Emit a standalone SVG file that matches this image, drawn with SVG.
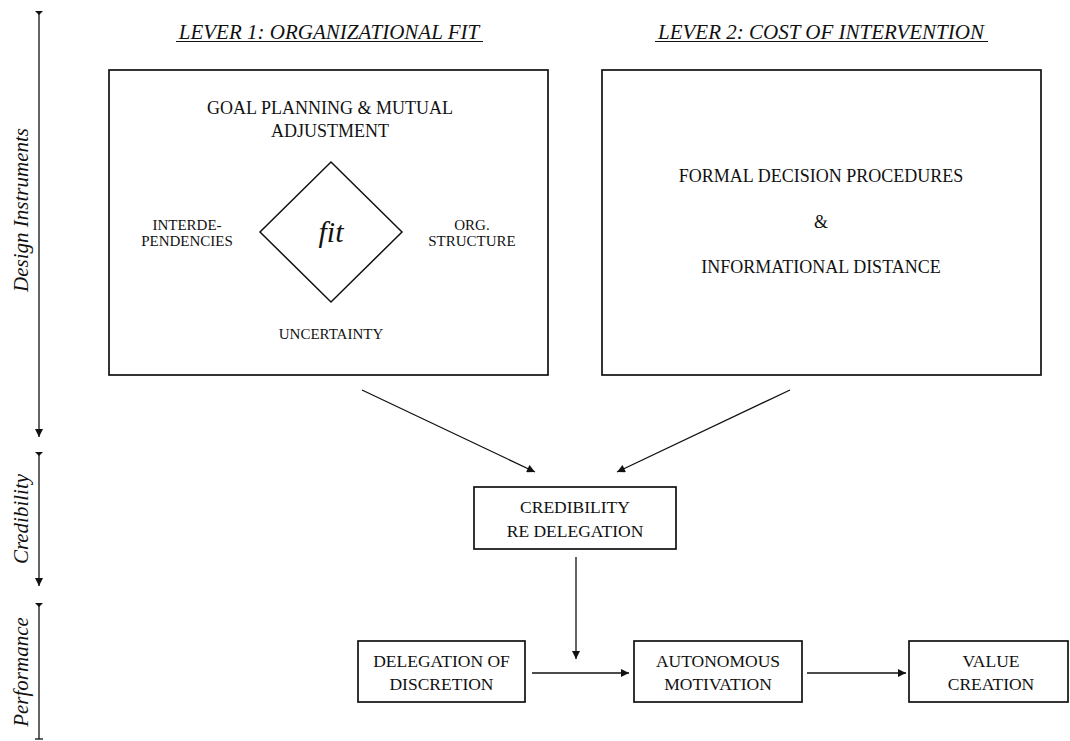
<svg xmlns="http://www.w3.org/2000/svg" width="1070" height="741" viewBox="0 0 1070 741">
  <style>
    .box { fill: #fff; stroke: #111; stroke-width: 1.7; }
    .t { font-family: "Liberation Serif", "Times New Roman", serif; fill: #111; text-anchor: middle; }
    .it { font-style: italic; }
    .axis { stroke: #111; stroke-width: 1.3; fill: none; }
    .conn { stroke: #111; stroke-width: 1.3; fill: none; }
  </style>
  <defs>
    <marker id="arrow" viewBox="0 0 10 10" refX="10" refY="5" markerWidth="10" markerHeight="8" markerUnits="userSpaceOnUse" orient="auto">
      <path d="M0,0 L10,5 L0,10 z" fill="#111"/>
    </marker>
  </defs>
  <rect width="1070" height="741" fill="#fff"/>

  <!-- left-hand phase axis -->
  <g id="axis">
    <polygon points="35,11 43,11 39,15" fill="#111"/>
    <line class="axis" x1="39" y1="11" x2="39" y2="437" marker-end="url(#arrow)"/>
    <text class="t it" font-size="21" transform="translate(28,210) rotate(-90)">Design Instruments</text>

    <polygon points="35,452 43,452 39,456" fill="#111"/>
    <line class="axis" x1="39" y1="452" x2="39" y2="586" marker-end="url(#arrow)"/>
    <text class="t it" font-size="21" transform="translate(28,519) rotate(-90)">Credibility</text>

    <polygon points="35,603 43,603 39,607" fill="#111"/>
    <line class="axis" x1="39" y1="603" x2="39" y2="739"/>
    <line class="axis" x1="35" y1="739" x2="43" y2="739"/>
    <text class="t it" font-size="21" transform="translate(28,672) rotate(-90)">Performance</text>
  </g>

  <!-- lever headings -->
  <g id="lever1-title">
    <text class="t it" font-size="21" x="329" y="39">LEVER 1: ORGANIZATIONAL FIT</text>
    <line x1="176" y1="41.5" x2="483" y2="41.5" stroke="#111" stroke-width="1"/>
  </g>
  <g id="lever2-title">
    <text class="t it" font-size="21" x="821" y="39">LEVER 2: COST OF INTERVENTION</text>
    <line x1="655" y1="41.5" x2="988" y2="41.5" stroke="#111" stroke-width="1"/>
  </g>

  <!-- lever 1: organizational fit -->
  <g id="lever1">
    <rect class="box" x="109" y="70" width="439" height="305"/>
    <text class="t" font-size="18" x="330" y="114">GOAL PLANNING &amp; MUTUAL</text>
    <text class="t" font-size="18" x="330" y="137">ADJUSTMENT</text>
    <polygon points="331,162 402,232 331,302 260,232" fill="none" stroke="#111" stroke-width="1.5"/>
    <text class="t it" font-size="30" x="331" y="242">fit</text>
    <text class="t" font-size="15" x="187" y="230">INTERDE-</text>
    <text class="t" font-size="15" x="187" y="246">PENDENCIES</text>
    <text class="t" font-size="15" x="472" y="230">ORG.</text>
    <text class="t" font-size="15" x="472" y="246">STRUCTURE</text>
    <text class="t" font-size="15" x="331" y="339">UNCERTAINTY</text>
  </g>

  <!-- lever 2: cost of intervention -->
  <g id="lever2">
    <rect class="box" x="602" y="70" width="439" height="305"/>
    <text class="t" font-size="18" x="821" y="182">FORMAL DECISION PROCEDURES</text>
    <text class="t" font-size="18" x="821" y="228">&amp;</text>
    <text class="t" font-size="18" x="821" y="273">INFORMATIONAL DISTANCE</text>
  </g>

  <g id="credibility">
    <rect class="box" x="474" y="487" width="202" height="62"/>
    <text class="t" font-size="17.5" x="575" y="513">CREDIBILITY</text>
    <text class="t" font-size="17.5" x="575" y="537">RE DELEGATION</text>
  </g>

  <g id="delegation">
    <rect class="box" x="358" y="641" width="167" height="61"/>
    <text class="t" font-size="17.5" x="441.5" y="667">DELEGATION OF</text>
    <text class="t" font-size="17.5" x="441.5" y="690">DISCRETION</text>
  </g>

  <g id="motivation">
    <rect class="box" x="634" y="641" width="168" height="61"/>
    <text class="t" font-size="17.5" x="718" y="667">AUTONOMOUS</text>
    <text class="t" font-size="17.5" x="718" y="690">MOTIVATION</text>
  </g>

  <g id="value">
    <rect class="box" x="909" y="641" width="159" height="61"/>
    <text class="t" font-size="17.5" x="991" y="667">VALUE</text>
    <text class="t" font-size="17.5" x="991" y="690">CREATION</text>
  </g>

  <!-- connectors -->
  <g id="connectors">
    <line class="conn" x1="362" y1="390" x2="535" y2="472" marker-end="url(#arrow)"/>
    <line class="conn" x1="790" y1="390" x2="617" y2="472" marker-end="url(#arrow)"/>
    <line class="conn" x1="576" y1="557" x2="576" y2="659" marker-end="url(#arrow)"/>
    <line class="conn" x1="532" y1="673" x2="629" y2="673" marker-end="url(#arrow)"/>
    <line class="conn" x1="807" y1="673" x2="906" y2="673" marker-end="url(#arrow)"/>
  </g>
</svg>
